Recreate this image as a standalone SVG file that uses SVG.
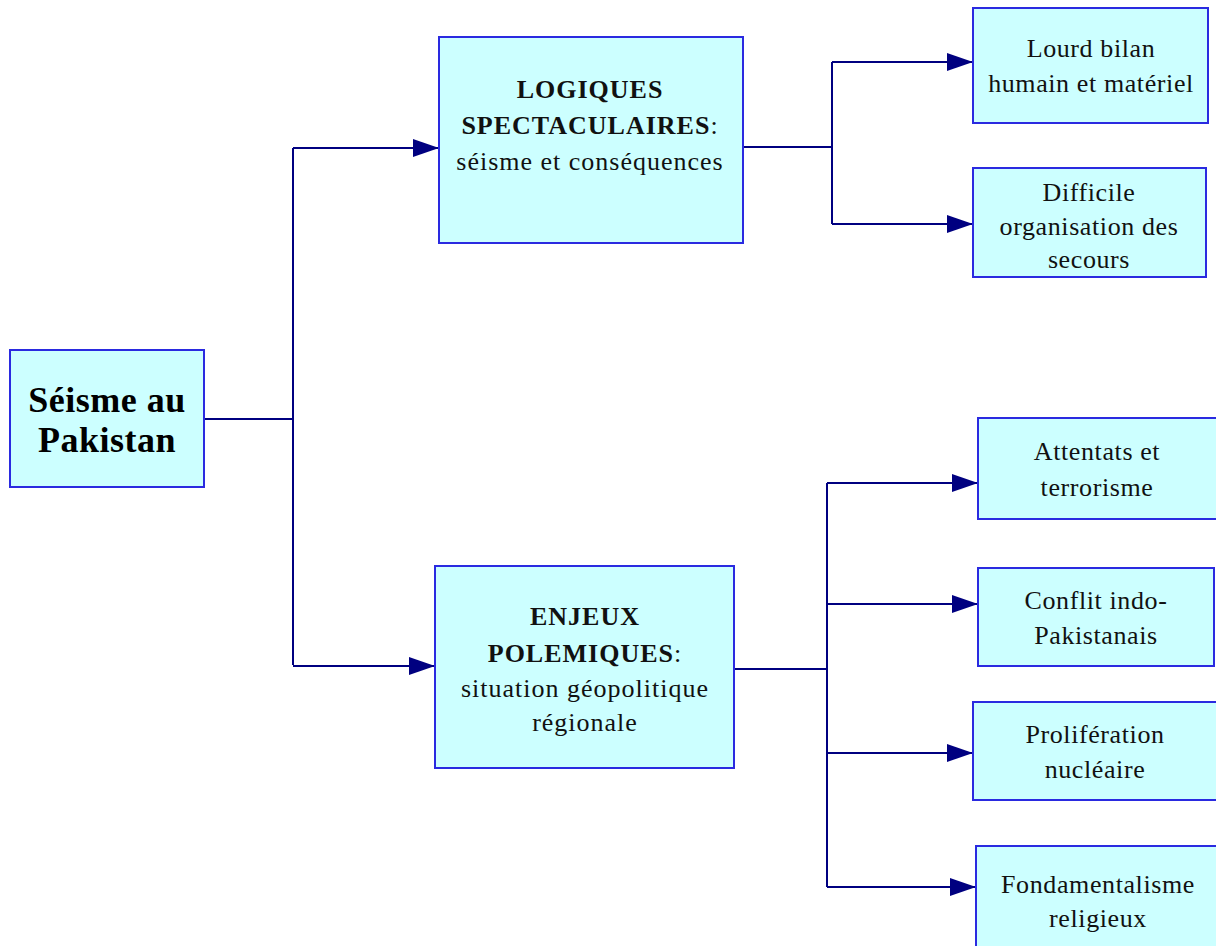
<svg xmlns="http://www.w3.org/2000/svg" width="1216" height="946" viewBox="0 0 1216 946">
<style>
.box{fill:#ccffff;stroke:#2a2ae0;stroke-width:2}
.t{font-family:"Liberation Serif","Times New Roman",serif;font-size:26px;fill:#111;text-anchor:middle;letter-spacing:0.6px}
.b{font-weight:bold}
.root{font-family:"Liberation Serif","Times New Roman",serif;font-size:36px;font-weight:bold;fill:#000;text-anchor:middle;letter-spacing:0.5px}
.mid{font-family:"Liberation Serif","Times New Roman",serif;font-size:26px;fill:#111;text-anchor:middle;letter-spacing:1px}
.c{fill:none;stroke:#000080;stroke-width:2}
</style>
<defs>
<marker id="ah" markerUnits="userSpaceOnUse" markerWidth="26" markerHeight="18" refX="26" refY="9" orient="auto">
<path d="M0,0 L26,9 L0,18 Z" fill="#000080"/>
</marker>
</defs>
<rect width="1216" height="946" fill="#fff"/>
<g id="connectors">
<path class="c" d="M204 419 H293"/>
<path class="c" d="M293 148 V665"/>
<path class="c" d="M293 148 H439" marker-end="url(#ah)"/>
<path class="c" d="M293 666 H435" marker-end="url(#ah)"/>
<path class="c" d="M743 147 H832"/>
<path class="c" d="M832 62 V224"/>
<path class="c" d="M832 62 H973" marker-end="url(#ah)"/>
<path class="c" d="M832 224 H973" marker-end="url(#ah)"/>
<path class="c" d="M734 669 H827"/>
<path class="c" d="M827 483 V887"/>
<path class="c" d="M827 483 H978" marker-end="url(#ah)"/>
<path class="c" d="M827 604 H978" marker-end="url(#ah)"/>
<path class="c" d="M827 753 H973" marker-end="url(#ah)"/>
<path class="c" d="M827 887 H976" marker-end="url(#ah)"/>
</g>
<g id="root">
<rect class="box" x="10" y="350" width="194" height="137"/>
<text class="root" x="107" y="412">Séisme au</text>
<text class="root" x="107" y="452">Pakistan</text>
</g>
<g id="logiques">
<rect class="box" x="439" y="37" width="304" height="206"/>
<text class="mid" x="590" y="98"><tspan class="b">LOGIQUES</tspan></text>
<text class="mid" x="590" y="134"><tspan class="b">SPECTACULAIRES</tspan>:</text>
<text class="mid" x="590" y="170">séisme et conséquences</text>
</g>
<g id="enjeux">
<rect class="box" x="435" y="566" width="299" height="202"/>
<text class="mid" x="585" y="625"><tspan class="b">ENJEUX</tspan></text>
<text class="mid" x="585" y="662"><tspan class="b">POLEMIQUES</tspan>:</text>
<text class="mid" x="585" y="697">situation géopolitique</text>
<text class="mid" x="585" y="731">régionale</text>
</g>
<g id="lourd">
<rect class="box" x="973" y="8" width="235" height="115"/>
<text class="t" x="1091" y="57">Lourd bilan</text>
<text class="t" x="1091" y="92">humain et matériel</text>
</g>
<g id="difficile">
<rect class="box" x="973" y="168" width="233" height="109"/>
<text class="t" x="1089" y="201">Difficile</text>
<text class="t" x="1089" y="235">organisation des</text>
<text class="t" x="1089" y="268">secours</text>
</g>
<g id="attentats">
<rect class="box" x="978" y="418" width="240" height="101"/>
<text class="t" x="1097" y="460">Attentats et</text>
<text class="t" x="1097" y="496">terrorisme</text>
</g>
<g id="conflit">
<rect class="box" x="978" y="568" width="236" height="98"/>
<text class="t" x="1096" y="609">Conflit indo-</text>
<text class="t" x="1096" y="644">Pakistanais</text>
</g>
<g id="proliferation">
<rect class="box" x="973" y="702" width="245" height="98"/>
<text class="t" x="1095" y="743">Prolifération</text>
<text class="t" x="1095" y="778">nucléaire</text>
</g>
<g id="fondamentalisme">
<rect class="box" x="976" y="846" width="242" height="110"/>
<text class="t" x="1098" y="893">Fondamentalisme</text>
<text class="t" x="1098" y="927">religieux</text>
</g>
</svg>
